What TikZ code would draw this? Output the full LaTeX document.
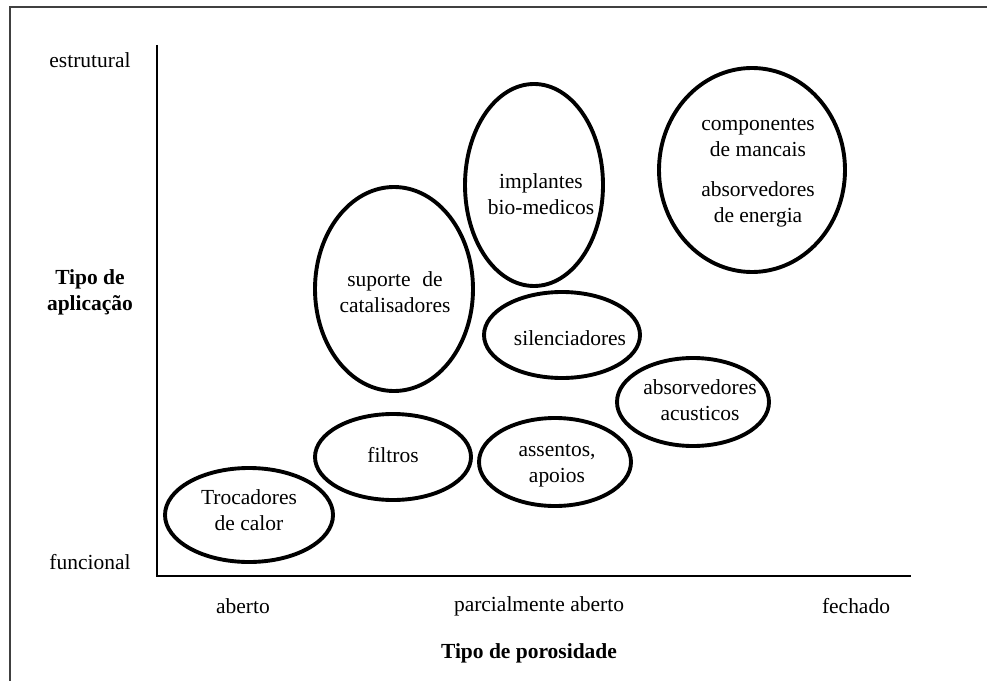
\documentclass[tikz,border=0pt]{standalone}
\usepackage{fontspec}
\setmainfont{Liberation Serif}
\usetikzlibrary{shapes.geometric}
\begin{document}
\begin{tikzpicture}[x=0.54pt, y=-0.54pt,
  blob/.style 2 args={ellipse, draw, line width=2.1pt, inner sep=0pt,
    minimum width={2*#1*0.54pt}, minimum height={2*#2*0.54pt}},
  txt/.style={align=center, inner sep=0pt, font=\fontsize{11.6pt}{14pt}\selectfont},
  axlab/.style={txt, font=\fontsize{11.6pt}{14pt}\selectfont\bfseries},
  axis/.style={line width=1.6pt}]
  \useasboundingbox (0,0) rectangle (987,681);
  % outer frame (runs off the right and bottom edges)
  \draw[line width=0.6pt, black!75] (10,700) -- (10,7) -- (1000,7);

  % axes
  \coordinate (ytop) at (157,45);
  \coordinate (orig) at (157,576);
  \coordinate (xend) at (911,576);
  \draw[axis] (ytop) -- (orig) -- (xend);

  % axis labels
  \node[txt] (estr) at (90,60) {estrutural};
  \node[txt] (func) at (90,562) {funcional};
  \node[axlab] (ylab) at (90,292) {Tipo de\\aplicação};
  \node[txt] (aber) at (243,606) {aberto};
  \node[txt] (parc) at (539,606) {parcialmente aberto};
  \node[txt] (fech) at (856,606) {fechado};
  \node[axlab] (xlab) at (529,653) {Tipo de porosidade};

  % application regions
  \node[blob={84}{47}] (troc) at (249,515) {};
  \node[txt] (troc-t) at (249,510) {Trocadores\\de calor};

  \node[blob={78}{43}] (filt) at (393,457) {};
  \node[txt] (filt-t) at (393,455) {filtros};

  \node[blob={79}{102}] (sup) at (394,289) {};
  \node[txt] (sup-t) at (395,292) {suporte\hspace{0.55em}de\\catalisadores};

  \node[blob={69}{101}] (impl) at (534,185) {};
  \node[txt] (impl-t) at (541,194) {implantes\\bio-medicos};

  \node[blob={93}{102}] (comp) at (752,170) {};
  \node[txt] (comp-t) at (758,173) {componentes\\de mancais\\[7.5pt]absorvedores\\de energia};

  \node[blob={78}{43}] (sil) at (562,335) {};
  \node[txt] (sil-t) at (570,338) {silenciadores};

  \node[blob={76}{44}] (acus) at (693,402) {};
  \node[txt] (acus-t) at (700,400) {absorvedores\\acusticos};

  \node[blob={76}{44}] (asse) at (555,462) {};
  \node[txt] (asse-t) at (557,466) {assentos,\\apoios};
\end{tikzpicture}
\end{document}
